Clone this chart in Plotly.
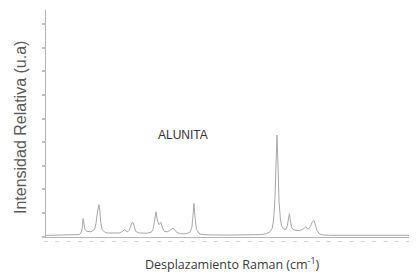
import plotly.graph_objects as go

# Raman shift (cm^-1) and relative intensity
raman_shift = [0, 57, 124, 146, 155, 160, 164, 168, 172, 181, 199, 215, 221, 227, 230, 234, 238, 242,
               248, 260, 270, 300, 323, 335, 343, 349, 355, 362, 367, 376, 380, 385, 390, 396, 411,
               446, 465, 473, 479, 486, 492, 499, 504, 508, 514, 522, 535, 548, 556, 561, 568, 578,
               595, 620, 636, 645, 650, 654, 658, 665, 680, 720, 800, 900, 950, 975, 990, 1000, 1006,
               1012, 1016, 1021, 1026, 1030, 1036, 1042, 1050, 1060, 1066, 1072, 1076, 1080, 1085,
               1092, 1105, 1120, 1135, 1145, 1150, 1156, 1162, 1170, 1177, 1185, 1191, 1198, 1210,
               1230, 1290, 1400, 1500, 1640]
intensity = [0.05, 0.05, 0.06, 0.08, 0.15, 0.35, 0.76, 0.45, 0.3, 0.22, 0.2, 0.3, 0.55, 1.0, 1.25,
             1.35, 1.1, 0.6, 0.3, 0.18, 0.15, 0.14, 0.15, 0.2, 0.27, 0.3, 0.22, 0.2, 0.25, 0.45, 0.58,
             0.6, 0.4, 0.22, 0.15, 0.14, 0.18, 0.3, 0.6, 1.05, 0.7, 0.5, 0.55, 0.6, 0.4, 0.22, 0.2,
             0.25, 0.33, 0.35, 0.3, 0.17, 0.12, 0.12, 0.18, 0.4, 0.9, 1.4, 0.9, 0.3, 0.1, 0.07, 0.06,
             0.06, 0.08, 0.12, 0.2, 0.35, 0.7, 1.6, 3.0, 4.3, 2.9, 1.5, 0.75, 0.45, 0.32, 0.3, 0.42,
             0.75, 0.97, 0.7, 0.4, 0.3, 0.26, 0.25, 0.3, 0.38, 0.42, 0.32, 0.33, 0.45, 0.62, 0.68,
             0.45, 0.25, 0.1, 0.06, 0.05, 0.05, 0.05, 0.05]

x_ticks = list(range(0, 1650, 50))
x_tick_marks = ["–"] * len(x_ticks)
y_ticks = list(range(0, 10))

fig = go.Figure()
fig.add_trace(go.Scatter(x=raman_shift, y=intensity, mode="lines",
                         line=dict(color="#a8a8a8", width=1), hoverinfo="skip",
                         showlegend=False))

# page body keeps an 8px default margin, so the figure is sized to fill the rest
fig.update_layout(
    width=409, height=265,
    margin=dict(l=38, r=0, t=2, b=35.5),
    paper_bgcolor="white", plot_bgcolor="white",
    xaxis=dict(range=[0, 1640], showgrid=False, zeroline=False, showline=True,
               linecolor="#b5b5b5", linewidth=1, tickvals=x_ticks, ticktext=x_tick_marks,
               ticks="", showticklabels=True, automargin=False, ticklabelstandoff=-3,
               tickfont=dict(size=7, color="#b0b0b0", family="Liberation Sans")),
    yaxis=dict(range=[-0.02, 9.6], showgrid=False, zeroline=False, showline=True,
               linecolor="#b5b5b5", linewidth=1, tickvals=y_ticks, automargin=False,
               ticks="outside", ticklen=3, tickwidth=1.5, tickcolor="#c0c0c0",
               showticklabels=False),
    annotations=[
        dict(text="Intensidad Relativa (u.a)", xref="paper", yref="paper",
             x=(20 - 46) / 371, y=0.48, textangle=-90, showarrow=False,
             xanchor="center", yanchor="middle",
             font=dict(family="Liberation Sans", size=16, color="#5a5a5a")),
        dict(text="Desplazamiento Raman (cm<sup>-1</sup>)", xref="paper", yref="paper",
             x=(232 - 46) / 371, y=-(265 - 237.5) / 227.5, showarrow=False,
             xanchor="center", yanchor="middle",
             font=dict(family="Open Sans", size=12.5, color="#3a3a3a")),
        dict(text="ALUNITA", xref="paper", yref="paper",
             x=(183 - 46) / 371, y=(237.5 - 135) / 227.5, showarrow=False,
             xanchor="center", yanchor="middle",
             font=dict(family="Liberation Sans", size=12, color="#333333")),
    ],
)

fig.write_html("out.html")
